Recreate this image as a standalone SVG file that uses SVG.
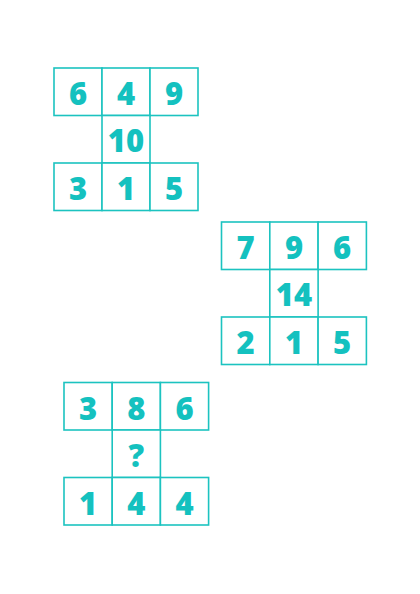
<svg xmlns="http://www.w3.org/2000/svg" width="420" height="594" viewBox="0 0 420 594">
<style>
.c{fill:#fff;stroke:#1cc3c0;stroke-width:1.6}
.t{font-family:"Open Sans","Liberation Sans",sans-serif;font-weight:800;font-size:31px;fill:#14c1bf;text-anchor:middle}
</style>
<rect width="420" height="594" fill="#fff"/>
<g id="grid1">
<rect class="c" x="54" y="68" width="48" height="47.5"/>
<rect class="c" x="102" y="68" width="48" height="47.5"/>
<rect class="c" x="150" y="68" width="48" height="47.5"/>
<rect class="c" x="102" y="115.5" width="48" height="47.5"/>
<rect class="c" x="54" y="163" width="48" height="47.5"/>
<rect class="c" x="102" y="163" width="48" height="47.5"/>
<rect class="c" x="150" y="163" width="48" height="47.5"/>
<text class="t" x="78" y="105">6</text>
<text class="t" x="126" y="105">4</text>
<text class="t" x="174" y="105">9</text>
<text class="t" x="126" y="152">10</text>
<text class="t" x="78" y="200">3</text>
<text class="t" x="126" y="200">1</text>
<text class="t" x="174" y="200">5</text>
</g>
<g id="grid2">
<rect class="c" x="221.5" y="222" width="48.3" height="47.5"/>
<rect class="c" x="269.8" y="222" width="48.3" height="47.5"/>
<rect class="c" x="318.1" y="222" width="48.3" height="47.5"/>
<rect class="c" x="269.8" y="269.5" width="48.3" height="47.5"/>
<rect class="c" x="221.5" y="317" width="48.3" height="47.5"/>
<rect class="c" x="269.8" y="317" width="48.3" height="47.5"/>
<rect class="c" x="318.1" y="317" width="48.3" height="47.5"/>
<text class="t" x="245.6" y="259">7</text>
<text class="t" x="294" y="259">9</text>
<text class="t" x="342.2" y="259">6</text>
<text class="t" x="294" y="306">14</text>
<text class="t" x="245.6" y="354">2</text>
<text class="t" x="294" y="354">1</text>
<text class="t" x="342.2" y="354">5</text>
</g>
<g id="grid3">
<rect class="c" x="64" y="382.5" width="48.2" height="47.5"/>
<rect class="c" x="112.2" y="382.5" width="48.2" height="47.5"/>
<rect class="c" x="160.4" y="382.5" width="48.2" height="47.5"/>
<rect class="c" x="112.2" y="430" width="48.2" height="47.5"/>
<rect class="c" x="64" y="477.5" width="48.2" height="47.5"/>
<rect class="c" x="112.2" y="477.5" width="48.2" height="47.5"/>
<rect class="c" x="160.4" y="477.5" width="48.2" height="47.5"/>
<text class="t" x="88.1" y="419.5">3</text>
<text class="t" x="136.3" y="419.5">8</text>
<text class="t" x="184.5" y="419.5">6</text>
<text class="t" x="136.3" y="466.5">?</text>
<text class="t" x="88.1" y="514.5">1</text>
<text class="t" x="136.3" y="514.5">4</text>
<text class="t" x="184.5" y="514.5">4</text>
</g>
<g id="connectors"/>
</svg>
